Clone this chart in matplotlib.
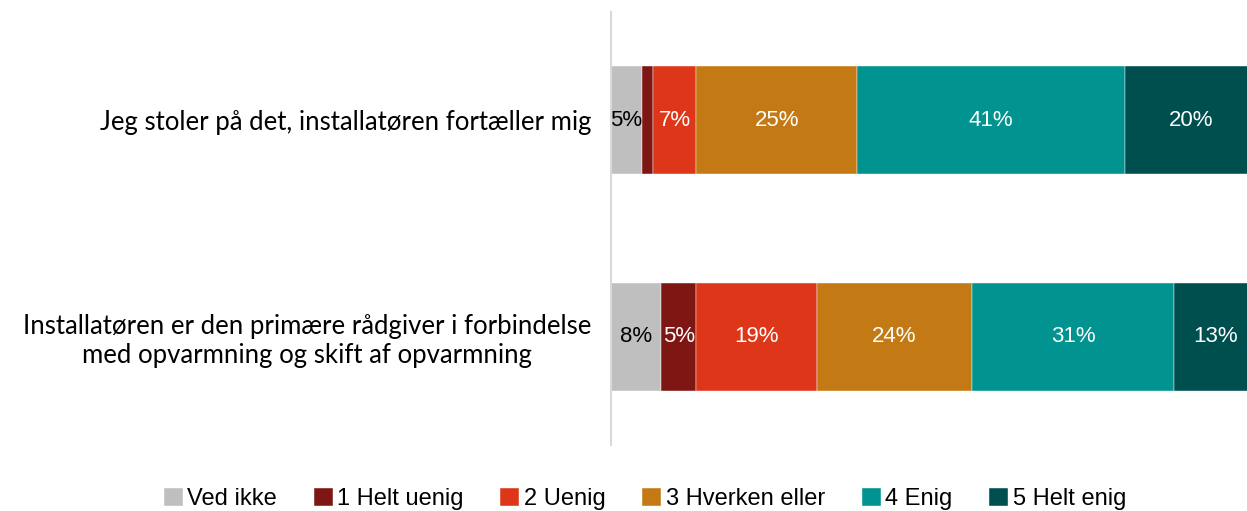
import matplotlib
matplotlib.use('Agg')
import matplotlib.pyplot as plt
import numpy as np

categories = ['Jeg stoler på det, installatøren fortæller mig',
              'Installatøren er den primære rådgiver i forbindelse\nmed opvarmning og skift af opvarmning']
series_names = ['Ved ikke', '1 Helt uenig', '2 Uenig', '3 Hverken eller', '4 Enig', '5 Helt enig']
values = [
    [4.8, 1.7, 6.7, 24.8, 41.4, 20.4],
    [7.8, 5.4, 18.6, 24.0, 31.2, 13.0],
]
colors = ['#bfbfbf', '#7e1713', '#de3619', '#c37a15', '#00938f', '#004f4f']
text_colors = ['black', 'white', 'white', 'white', 'white', 'white']

fig = plt.figure(figsize=(12.47, 5.11), dpi=100)
ax = fig.add_axes([611 / 1247, 1 - 445 / 511, 1 - 611 / 1247, (445 - 12) / 511])

data = np.array(values)
y_pos = np.arange(len(categories))
left = np.zeros(len(categories))
handles = []
for i, name in enumerate(series_names):
    bars = ax.barh(y_pos, data[:, i], left=left, height=0.5, color=colors[i], label=name,
                   edgecolor='white', linewidth=0.3)
    handles.append(bars)
    for j, v in enumerate(data[:, i]):
        if v >= 3:
            ax.text(left[j] + v / 2, y_pos[j], '%d%%' % round(v), ha='center', va='center',
                    color=text_colors[i], fontsize=16,
                    family=['Liberation Sans', 'DejaVu Sans'])
    left += data[:, i]

ax.set_xlim(0, 98.3)
ax.set_ylim(1.5, -0.5)
ax.set_xticks([])
ax.set_yticks(y_pos)
ax.set_yticklabels(categories, fontsize=18.5, family=['Lato', 'DejaVu Sans'],
                   multialignment='center', linespacing=1.2)
ax.tick_params(axis='y', length=0, pad=14)
for side in ['top', 'right', 'bottom']:
    ax.spines[side].set_visible(False)
ax.spines['left'].set_color('#d9d9d9')
ax.spines['left'].set_linewidth(1.5)

fig.legend(handles=handles, loc='center', bbox_to_anchor=(645 / 1247, 1 - 499 / 511), ncol=6,
           frameon=False, handlelength=0.8, handleheight=0.8, handletextpad=0.2, columnspacing=1.55,
           prop={'family': ['Liberation Sans', 'DejaVu Sans'], 'size': 17})

fig.savefig('out.png', dpi=100)
